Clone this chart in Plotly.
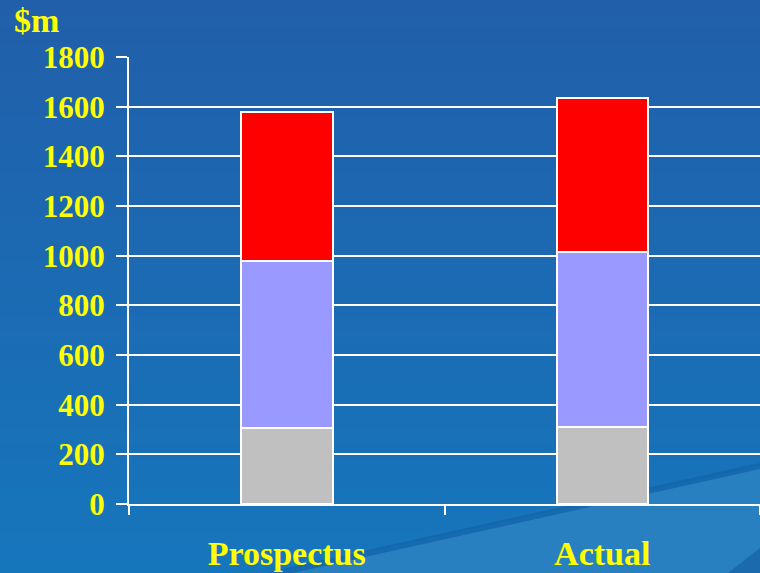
import plotly.graph_objects as go

categories = ["Prospectus", "Actual"]
base_vals = [305, 312]
mid_vals = [675, 703]
top_vals = [597, 620]
y_ticks = [0, 200, 400, 600, 800, 1000, 1200, 1400, 1600, 1800]

W, H = 760, 573
ML, MR, MT, MB = 129, 0, 57, 69
PW, PH = W - ML - MR, H - MT - MB

def px(x):
    return (x - ML) / PW

def py(y):
    return (H - MB - y) / PH

fig = go.Figure()
colors = ["#C0C0C0", "#9999FF", "#FF0000"]
for vals, c in zip([base_vals, mid_vals, top_vals], colors):
    fig.add_trace(go.Bar(x=categories, y=vals, marker=dict(color=c, line=dict(color="white", width=2)),
                         width=0.29, showlegend=False, hoverinfo="skip"))

shapes = []
n = 40
top_c = (33, 95, 170)
bot_c = (22, 118, 188)
for i in range(n):
    t = i / (n - 1)
    c = tuple(int(round(top_c[k] + (bot_c[k] - top_c[k]) * t)) for k in range(3))
    y0 = H * i / n
    y1 = H * (i + 1) / n + 1
    shapes.append(dict(type="rect", xref="paper", yref="paper", x0=px(0), x1=px(W),
                       y0=py(y1), y1=py(y0), fillcolor="rgb(%d,%d,%d)" % c, line=dict(width=0), layer="below"))
# light diagonal streak bottom right
shapes.append(dict(type="path", xref="paper", yref="paper",
                   path="M %f,%f L %f,%f L %f,%f Z" % (px(270), py(H), px(W), py(466), px(W), py(H)),
                   fillcolor="rgb(40,128,192)", line=dict(width=0), layer="below"))
shapes.append(dict(type="line", xref="paper", yref="paper", x0=px(270), y0=py(H + 2), x1=px(W), y1=py(466),
                   line=dict(color="rgba(18,100,170,0.8)", width=6), layer="below"))
shapes.append(dict(type="path", xref="paper", yref="paper",
                   path="M %f,%f L %f,%f L %f,%f Z" % (px(728), py(H), px(W), py(548), px(W), py(H)),
                   fillcolor="rgba(22,100,168,0.8)", line=dict(width=0), layer="below"))

fig.update_layout(
    width=W, height=H,
    margin=dict(l=ML, r=MR, t=MT, b=MB, autoexpand=False),
    paper_bgcolor="rgb(28,105,178)",
    plot_bgcolor="rgba(0,0,0,0)",
    barmode="stack",
    shapes=shapes,
    hovermode=False,
    font=dict(family="Liberation Serif", color="#FFFF00", size=31, weight="bold"),
    xaxis=dict(range=[-0.5, 1.5], showgrid=False, showline=True, linecolor="white", linewidth=2,
               ticks="outside", tickson="boundaries", ticklen=9, tickwidth=2, tickcolor="white",
               tickfont=dict(family="Liberation Serif", size=34, color="#FFFF00", weight="bold"),
               ticklabelstandoff=18, fixedrange=True, automargin=False),
    yaxis=dict(range=[0, 1800], tickvals=y_ticks, showgrid=True, gridcolor="white", gridwidth=2,
               showline=True, linecolor="white", linewidth=2, zeroline=False,
               ticks="outside", ticklen=11, tickwidth=2, tickcolor="white",
               tickfont=dict(family="Liberation Serif", size=31, color="#FFFF00", weight="bold"),
               ticklabelstandoff=5, fixedrange=True, automargin=False),
    annotations=[dict(text="$m", xref="paper", yref="paper", x=px(12), y=py(21), xanchor="left", yanchor="middle",
                      showarrow=False, font=dict(family="Liberation Serif", size=34, color="#FFFF00", weight="bold"))],
)
fig.write_html("out.html", config={"displayModeBar": False},
               post_script="document.body.style.margin='0';document.body.style.overflow='hidden';")
